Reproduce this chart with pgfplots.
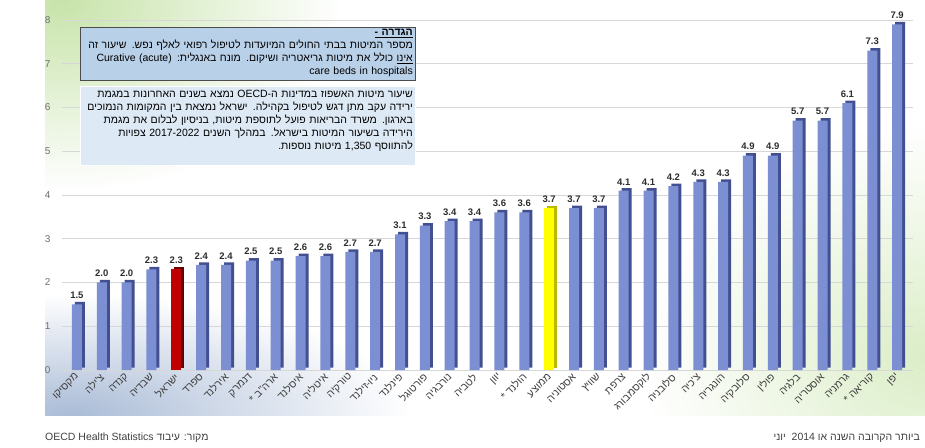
\documentclass[border=0pt]{standalone}
\usepackage{fontspec}
\setmainfont{Liberation Sans}
\newfontfamily\heb[Script=Hebrew]{Liberation Sans}
\usepackage{pgfplots}
\pgfplotsset{compat=1.18}
\usepackage{pgfplotstable}
\usetikzlibrary{fadings}
\TeXXeTstate=1

\definecolor{barfront}{RGB}{124,143,210}
\definecolor{barside}{RGB}{66,80,145}
\definecolor{redfront}{RGB}{192,0,0}
\definecolor{redside}{RGB}{105,0,0}
\definecolor{yelfront}{RGB}{255,255,0}
\definecolor{yelside}{RGB}{185,185,0}
\definecolor{boxone}{RGB}{185,208,233}
\definecolor{boxtwo}{RGB}{221,233,245}
\definecolor{tickgray}{RGB}{110,110,110}
\definecolor{labgray}{RGB}{64,64,64}
\definecolor{valc}{RGB}{45,45,45}
\definecolor{gridc}{RGB}{215,215,215}
\definecolor{bggreen}{RGB}{200,228,170}
\definecolor{bgblue}{RGB}{170,188,215}
\definecolor{bglgreen}{RGB}{220,238,200}

\newcommand\hl[1]{{\heb\beginR #1\endR}}
\newcommand\ul[1]{\underline{\beginR #1\endR}}
\newcommand\jl[1]{\leavevmode\hbox{\beginR #1\endR}}

\tikzfading[name=fuzz, inner color=transparent!0, outer color=transparent!100]

% hospital beds per 1000, blue bars (Israel and average apart)
\pgfplotstableread{
x y
1 1.5
2 2.0
3 2.0
4 2.3
6 2.4
7 2.4
8 2.5
9 2.5
10 2.6
11 2.6
12 2.7
13 2.7
14 3.1
15 3.3
16 3.4
17 3.4
18 3.6
19 3.6
21 3.7
22 3.7
23 4.1
24 4.1
25 4.2
26 4.3
27 4.3
28 4.9
29 4.9
30 5.7
31 5.7
32 6.1
33 7.3
34 7.9
}\beds

\begin{document}
\begin{tikzpicture}
\path[use as bounding box] (0,0) rectangle (925pt,447pt);

% background
\begin{scope}
\clip (45pt,32pt) rectangle (925pt,447pt);
\fill[white] (45pt,32pt) rectangle (925pt,447pt);
\fill[bggreen, path fading=fuzz] (60pt,447pt) ellipse (280pt and 190pt);
\fill[bgblue, path fading=fuzz] (70pt,32pt) ellipse (340pt and 120pt);
\fill[bglgreen, path fading=fuzz] (925pt,90pt) ellipse (280pt and 230pt);
\end{scope}

\begin{axis}[
  at={(62pt,77pt)}, anchor=south west,
  scale only axis, width=851pt, height=350pt,
  xmin=0.4, xmax=34.64, ymin=0, ymax=8,
  axis line style={draw=none},
  major tick length=0pt,
  clip=false,
  xtick={1,...,34},
  xticklabels={\hl{מקסיקו},\hl{צ'ילה},\hl{קנדה},\hl{שבדיה},\hl{ישראל},\hl{ספרד},\hl{אירלנד},\hl{דנמרק},\hl{ארה"ב *},\hl{איסלנד},\hl{איטליה},\hl{טורקיה},\hl{ניו-זילנד},\hl{פינלנד},\hl{פורטוגל},\hl{נורבגיה},\hl{לטביה},\hl{יוון},\hl{הולנד *},\hl{ממוצע},\hl{אסטוניה},\hl{שוויץ},\hl{צרפת},\hl{לוקסמבורג},\hl{סלובניה},\hl{צ'כיה},\hl{הונגריה},\hl{סלובקיה},\hl{פולין},\hl{בלגיה},\hl{אוסטריה},\hl{גרמניה},\hl{קוריאה *},\hl{יפן}},
  xticklabel style={rotate=45, anchor=east, font=\fontsize{10.5}{12}\selectfont, text=labgray, yshift=-4pt},
  ytick={0,...,8},
  yticklabel style={font=\fontsize{10}{12}\selectfont, text=tickgray, xshift=-8pt},
  /pgf/number format/assume math mode=true,
  ymajorgrids, grid style={gridc, line width=0.8pt},
  nodes near coords style={font=\bfseries\fontsize{9.5}{11}\selectfont, text=valc, yshift=2pt,
    /pgf/number format/.cd, fixed, fixed zerofill, precision=1},
]
% side faces
\addplot[ybar, bar width=10pt, bar shift=3pt, yshift=2.5pt, fill=barside, draw=none] table[x=x,y=y]{\beds};
\addplot[ybar, bar width=10pt, bar shift=3pt, yshift=2.5pt, fill=redside, draw=none] coordinates {(5,2.3)};
\addplot[ybar, bar width=10pt, bar shift=3pt, yshift=2.5pt, fill=yelside, draw=none] coordinates {(20,3.7)};
% front faces
\addplot[ybar, bar width=10pt, bar shift=0pt, fill=barfront, draw=none, nodes near coords] table[x=x,y=y]{\beds};
\addplot[ybar, bar width=10pt, bar shift=0pt, fill=redfront, draw=none, nodes near coords] coordinates {(5,2.3)};
\addplot[ybar, bar width=10pt, bar shift=0pt, fill=yelfront, draw=none, nodes near coords] coordinates {(20,3.7)};
\end{axis}

% text boxes
\fill[boxone, draw=black!70, line width=0.6pt] (80pt,367pt) rectangle (415pt,420pt);
\node[anchor=north east, inner sep=0pt, text width=340pt, align=right,
  font=\heb\fontsize{10.5}{13}\selectfont] at (413pt,418pt) {%
  \ul{\bfseries הגדרה -}\\
  \jl{מספר המיטות בבתי החולים המיועדות לטיפול רפואי לאלף נפש. שיעור זה}\\
  \jl{\ul{אינו} כולל את מיטות גריאטריה ושיקום. מונח באנגלית: \beginL Curative (acute)\endL}\\
  \beginR\beginL care beds in hospitals\endL\endR};

\fill[boxtwo, draw=white, line width=0.6pt] (80pt,282pt) rectangle (415pt,361pt);
\node[anchor=north east, inner sep=0pt, text width=340pt, align=right,
  font=\heb\fontsize{10.5}{13}\selectfont] at (413pt,357pt) {%
  \jl{שיעור מיטות האשפוז במדינות ה-\beginL OECD\endL\ נמצא בשנים האחרונות במגמת}\\
  \jl{ירידה עקב מתן דגש לטיפול בקהילה. ישראל נמצאת בין המקומות הנמוכים}\\
  \jl{בארגון. משרד הבריאות פועל לתוספת מיטות, בניסיון לבלום את מגמת}\\
  \jl{הירידה בשיעור המיטות בישראל. במהלך השנים \beginL 2017-2022\endL\ צפויות}\\
  \beginR להתווסף \beginL 1,350\endL\ מיטות נוספות.\endR};

% footers
\node[anchor=base west, inner sep=0pt, text=labgray, font=\heb\fontsize{10.5}{12}\selectfont]
  at (45pt,7pt) {\beginR מקור: עיבוד \beginL OECD Health Statistics\endL\endR};
\node[anchor=base east, inner sep=0pt, text=labgray, font=\heb\fontsize{10.5}{12}\selectfont]
  at (920pt,7pt) {\beginR ביותר הקרובה השנה או \beginL 2014\endL\ \ יוני\endR};
\end{tikzpicture}
\end{document}
